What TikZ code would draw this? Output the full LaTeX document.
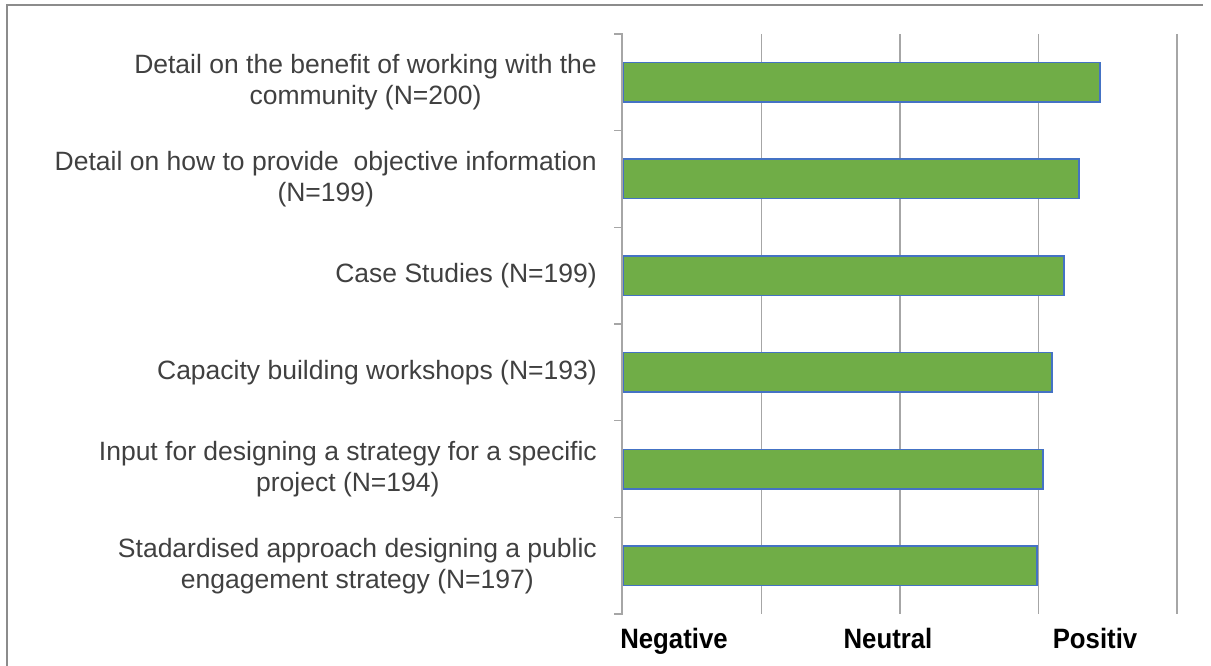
\documentclass[tikz,border=0pt]{standalone}
\usepackage{fontspec}
\setmainfont{Liberation Sans}
\newfontfamily\ratingfont[FakeStretch=0.92]{Liberation Sans}
\definecolor{barfill}{HTML}{70AD47}
\definecolor{barline}{HTML}{4472C4}
\definecolor{gridgray}{HTML}{A6A6A6}
\definecolor{framegray}{HTML}{8C8C8C}
\definecolor{txtgray}{HTML}{404040}
\usetikzlibrary{positioning}
\tikzstyle{bar} = [draw=barline, fill=barfill, line width=1.5pt, rectangle, minimum height=39.5pt, inner sep=0pt, anchor=west]
\tikzstyle{item} = [txtgray, align=center, inner sep=0pt, font=\fontsize{26.5}{31}\selectfont]
\tikzstyle{rating} = [black, inner sep=0pt, anchor=base, font=\ratingfont\bfseries\fontsize{28}{32}\selectfont]
\tikzstyle{grid} = [gridgray, line width=1.5pt]

\begin{document}
\begin{tikzpicture}[x=1pt, y=-1pt]
\useasboundingbox (0,0) rectangle (1211,666);
\draw[framegray, line width=1.5pt] (7,666) -- (7,5) -- (1203,5);

% grid
\draw[grid] (761.5,34) -- (761.5,614);
\draw[grid] (900,34) -- (900,614);
\draw[grid] (1038.5,34) -- (1038.5,614);
\draw[grid] (1177,34) -- (1177,614);

% bars
\node[bar, minimum width=477pt] (b1) at (622,82.3) {};
\node[bar, minimum width=456pt] (b2) at (622,179) {};
\node[bar, minimum width=441pt] (b3) at (622,275.7) {};
\node[bar, minimum width=429pt] (b4) at (622,372.3) {};
\node[bar, minimum width=420pt] (b5) at (622,469) {};
\node[bar, minimum width=414pt] (b6) at (622,565.7) {};

% axis
\draw[grid] (614,34) -- (622,34) -- (622,614) -- (614,614);
\draw[grid] (614,130.7) -- (622,130.7);
\draw[grid] (614,227.3) -- (622,227.3);
\draw[grid] (614,324) -- (622,324);
\draw[grid] (614,420.7) -- (622,420.7);
\draw[grid] (614,517.3) -- (622,517.3);

\node[item, left=25pt of b1.west] (l1) {Detail on the benefit of working with the\\community (N=200)};
\node[item, left=25pt of b2.west] (l2) {Detail on how to provide\ \ objective information\\(N=199)};
\node[item, left=25pt of b3.west] (l3) {Case Studies (N=199)};
\node[item, left=25pt of b4.west] (l4) {Capacity building workshops (N=193)};
\node[item, left=25pt of b5.west] (l5) {Input for designing a strategy for a specific\\project (N=194)};
\node[item, left=25pt of b6.west] (l6) {Stadardised approach designing a public\\engagement strategy (N=197)};

\node[rating] (neg) at (674,648) {Negative};
\node[rating] (neu) at (888,648) {Neutral};
\node[rating] (pos) at (1095,648) {Positiv};
\end{tikzpicture}
\end{document}
